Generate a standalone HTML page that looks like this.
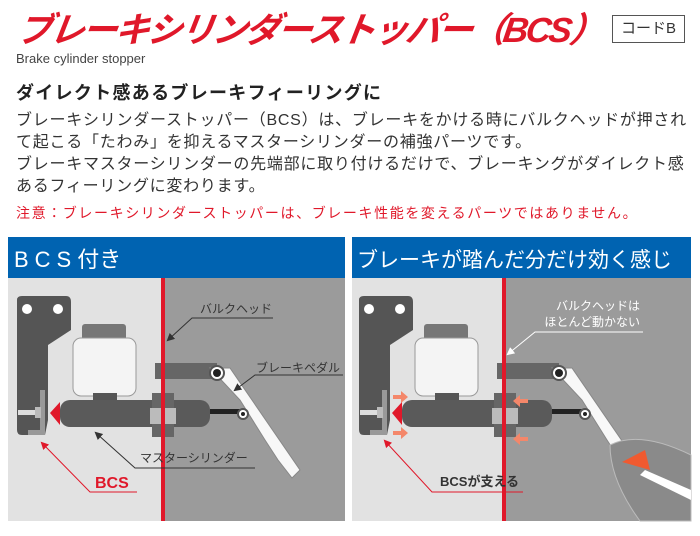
<!DOCTYPE html>
<html><head><meta charset="utf-8"><style>
body{margin:0;width:700px;height:536px;background:#fff;overflow:hidden;position:relative;font-family:"Liberation Sans","Noto Sans CJK JP",sans-serif;}
.a{position:absolute;white-space:nowrap;}
</style></head><body>
<div class="a" style="left:18px;top:2px;font-size:35px;font-weight:bold;font-style:italic;color:#e0182a;letter-spacing:-2.5px;transform:skewX(-8deg);">ブレーキシリンダーストッパー（BCS）</div>
<div class="a" style="left:612px;top:15px;width:71px;height:26px;border:1px solid #555;font-size:15px;line-height:26px;text-align:center;color:#333;">コードB</div>
<div class="a" style="left:16px;top:51px;font-size:13px;color:#444;">Brake cylinder stopper</div>
<div class="a" style="left:16px;top:79px;font-size:18px;font-weight:bold;color:#222;letter-spacing:1.3px;">ダイレクト感あるブレーキフィーリングに</div>
<div class="a" style="left:16px;top:110px;font-size:16px;line-height:22px;color:#333;letter-spacing:0.75px;">ブレーキシリンダーストッパー（BCS）は、ブレーキをかける時にバルクヘッドが押され<br>て起こる「たわみ」を抑えるマスターシリンダーの補強パーツです。<br>ブレーキマスターシリンダーの先端部に取り付けるだけで、ブレーキングがダイレクト感<br>あるフィーリングに変わります。</div>
<div class="a" style="left:16px;top:203px;font-size:14px;color:#e0182a;letter-spacing:1.6px;">注意：ブレーキシリンダーストッパーは、ブレーキ性能を変えるパーツではありません。</div>
<svg class="a" style="left:0;top:0" width="700" height="536" viewBox="0 0 700 536">
<defs>
<marker id="ah" markerWidth="8" markerHeight="8" refX="6" refY="4" orient="auto"><path d="M0,0 L8,4 L0,8z" fill="#333"/></marker>
<marker id="ar" markerWidth="8" markerHeight="8" refX="6" refY="4" orient="auto"><path d="M0,0 L8,4 L0,8z" fill="#e0182a"/></marker>
<marker id="aw" markerWidth="8" markerHeight="8" refX="6" refY="4" orient="auto"><path d="M0,0 L8,4 L0,8z" fill="#fff"/></marker>
<g id="mech">
<path d="M17,300 Q17,296 22,296 L66,296 Q71,296 71,302 L71,330 L48,345 L48,420 L45,435 L22,435 Q17,435 17,430Z" fill="#555"/>
<circle cx="27" cy="309" r="5" fill="#fff"/><circle cx="58" cy="309" r="5" fill="#fff"/>
<rect x="40" y="390" width="5" height="45" fill="#999"/><rect x="28" y="430" width="17" height="5" fill="#999"/>
<rect x="18" y="410" width="22" height="5" fill="#ddd"/><rect x="35" y="407" width="6" height="11" fill="#bbb"/>
<rect x="82" y="324" width="44" height="18" rx="3" fill="#777"/>
<rect x="73" y="338" width="63" height="58" rx="8" fill="#f4f4f4" stroke="#999"/>
<rect x="93" y="393" width="24" height="10" fill="#555"/>
<path d="M50,413 L60,402 L60,425z" fill="#e0182a"/>
<rect x="60" y="400" width="150" height="27" rx="10" fill="#5a5a5a"/>
<rect x="152" y="393" width="22" height="44" fill="#666"/><rect x="150" y="408" width="26" height="16" fill="#bbb"/>
<rect x="210" y="409" width="30" height="5" fill="#222"/>
<rect x="155" y="363" width="62" height="16" fill="#666"/>
<path d="M210,368 L230,368 L300,470 L292,478 L278,460 L265,440 L240,400z" fill="#f8f8f8" stroke="#888"/>
<circle cx="217" cy="373" r="7" fill="#fff" stroke="#555" stroke-width="2"/><circle cx="217" cy="373" r="4" fill="#222"/>
<circle cx="243" cy="414" r="5" fill="#fff" stroke="#555" stroke-width="2"/><circle cx="243" cy="414" r="2" fill="#222"/>
</g>
</defs>
<rect x="8" y="237" width="337" height="41" fill="#0063b1"/>
<text x="14" y="267" font-size="22" fill="#fff" font-family="Liberation Sans,Noto Sans CJK JP,sans-serif"><tspan letter-spacing="6">BCS</tspan><tspan>付き</tspan></text>
<rect x="8" y="278" width="156" height="243" fill="#e2e2e2"/>
<rect x="164" y="278" width="181" height="243" fill="#9b9b9b"/>
<use href="#mech"/>
<rect x="161" y="278" width="4" height="243" fill="#e0182a"/>
<text x="200" y="313" font-size="12" fill="#333" font-family="Liberation Sans,Noto Sans CJK JP,sans-serif">バルクヘッド</text>
<polyline points="273,318 192,318 168,340" fill="none" stroke="#333" marker-end="url(#ah)"/>
<text x="256" y="372" font-size="12" fill="#333" font-family="Liberation Sans,Noto Sans CJK JP,sans-serif">ブレーキペダル</text>
<polyline points="343,375 255,375 235,390" fill="none" stroke="#333" marker-end="url(#ah)"/>
<text x="140" y="462" font-size="12" fill="#333" font-family="Liberation Sans,Noto Sans CJK JP,sans-serif">マスターシリンダー</text>
<polyline points="255,468 135,468 96,433" fill="none" stroke="#333" marker-end="url(#ah)"/>
<text x="95" y="488" font-size="16" font-weight="bold" fill="#e0182a" font-family="Liberation Sans,sans-serif">BCS</text>
<polyline points="137,492 90,492 42,443" fill="none" stroke="#e0182a" marker-end="url(#ar)"/>
<rect x="352" y="237" width="339" height="41" fill="#0063b1"/>
<text x="357" y="267" font-size="21" fill="#fff" font-family="Liberation Sans,Noto Sans CJK JP,sans-serif">ブレーキが踏んだ分だけ効く感じ</text>
<rect x="352" y="278" width="153" height="243" fill="#e2e2e2"/>
<rect x="505" y="278" width="186" height="243" fill="#9b9b9b"/>
<use href="#mech" x="342"/>
<path d="M610,445 Q640,430 691,455 L691,521 L640,521 Q610,480 610,445z" fill="#8a8a8a" stroke="#bbb"/>
<path d="M622,462 L645,450 L650,470 Z" fill="#f05a30"/><path d="M645,470 L691,490 L691,500 L640,475z" fill="#fff"/>
<rect x="502" y="278" width="4" height="243" fill="#e0182a"/>
<g fill="#f4876a"><path d="M393,395 h8 v-4 l7,6 l-7,6 v-4 h-8z"/><path d="M393,431 h8 v-4 l7,6 l-7,6 v-4 h-8z"/><path d="M528,399 h-8 v-4 l-7,6 l7,6 v-4 h8z"/><path d="M528,437 h-8 v-4 l-7,6 l7,6 v-4 h8z"/></g>
<text x="640" y="310" font-size="12" fill="#fff" text-anchor="end" font-family="Liberation Sans,Noto Sans CJK JP,sans-serif">バルクヘッドは</text>
<text x="640" y="326" font-size="12" fill="#fff" text-anchor="end" font-family="Liberation Sans,Noto Sans CJK JP,sans-serif">ほとんど動かない</text>
<polyline points="643,332 535,332 508,354" fill="none" stroke="#fff" marker-end="url(#aw)"/>
<text x="440" y="486" font-size="13" font-weight="bold" fill="#333" font-family="Liberation Sans,Noto Sans CJK JP,sans-serif">BCSが支える</text>
<polyline points="523,492 432,492 385,441" fill="none" stroke="#e0182a" marker-end="url(#ar)"/>
</svg>
</body></html>
